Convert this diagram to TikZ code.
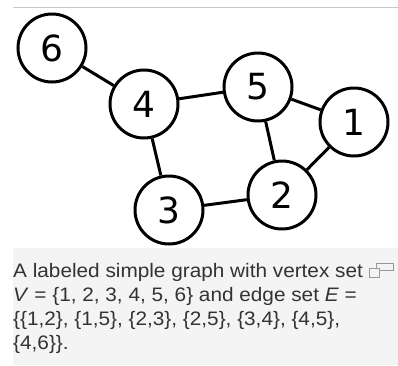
\documentclass[tikz,border=0pt]{standalone}
\usepackage{fontspec}
\setmainfont{Liberation Sans}[FakeStretch=1.065]
\newfontfamily\vfont{DejaVu Sans}
\definecolor{capbg}{HTML}{F4F4F4}
\definecolor{captxt}{HTML}{333333}
\definecolor{rulegray}{HTML}{C8C8C8}
\begin{document}
\begin{tikzpicture}[x=1pt,y=-1pt,
  vertex/.style={circle,draw=black,fill=white,line width=3pt,minimum size=68pt,inner sep=0pt,font=\vfont\fontsize{36}{36}\selectfont},
  edge/.style={line width=3pt,black},
  capline/.style={anchor=base west,inner sep=0pt,text=captxt,font=\fontsize{19.5}{22}\selectfont}]
\useasboundingbox (0,0) rectangle (398,365);
\fill[white] (0,0) rectangle (398,365);
\draw[rulegray,line width=1pt] (13,7) -- (398,7);
\fill[capbg] (13,248) rectangle (398,365);
% vertices
\node[vertex] (v6) at (52,48) {6};
\node[vertex] (v4) at (144,104) {4};
\node[vertex] (v5) at (258,87) {5};
\node[vertex] (v1) at (354,122) {1};
\node[vertex] (v2) at (282,195) {2};
\node[vertex] (v3) at (169,210) {3};
% edges
\draw[edge] (v6) -- (v4);
\draw[edge] (v4) -- (v5);
\draw[edge] (v5) -- (v1);
\draw[edge] (v5) -- (v2);
\draw[edge] (v1) -- (v2);
\draw[edge] (v4) -- (v3);
\draw[edge] (v3) -- (v2);
% caption
\node[capline] (c1) at (13,277) {A labeled simple graph with vertex set};
\node[capline] (c2) at (13,301) {\textit{V} = \{1, 2, 3, 4, 5, 6\} and edge set \textit{E} =};
\node[capline] (c3) at (13,325) {\{\{1,2\}, \{1,5\}, \{2,3\}, \{2,5\}, \{3,4\}, \{4,5\},};
\node[capline] (c4) at (13,349) {\{4,6\}\}.};
% magnify icon
\draw[gray!80,line width=1pt] (376,263) rectangle (393,270);
\draw[gray!80,line width=1pt,fill=capbg] (369,268) rectangle (379,277);
\end{tikzpicture}
\end{document}
